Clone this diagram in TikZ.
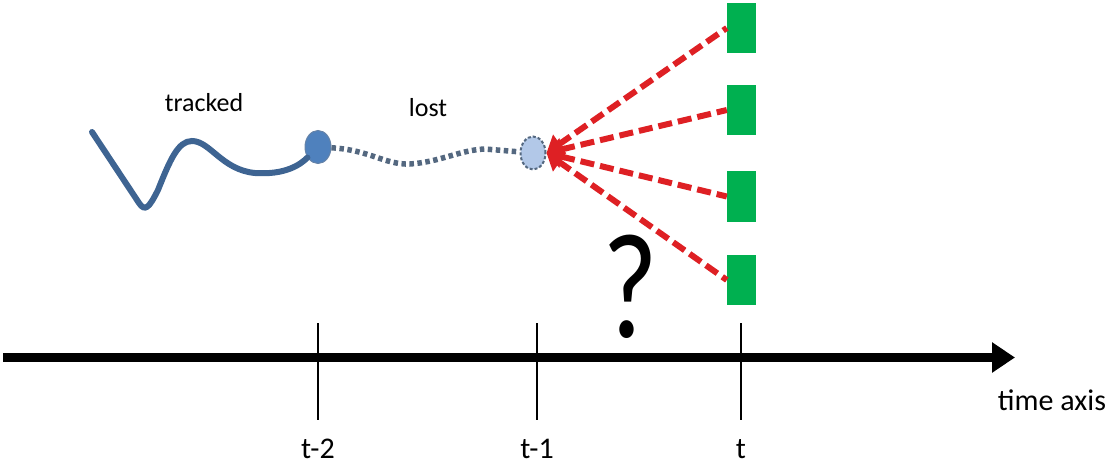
\documentclass[tikz,border=0pt]{standalone}
\usepackage{fontspec}
\setmainfont{Carlito}
\usetikzlibrary{arrows.meta,positioning,shapes.geometric}
\definecolor{trackblue}{RGB}{62,100,146}
\definecolor{dotblue}{RGB}{84,104,128}
\definecolor{nodeblue}{RGB}{79,129,189}
\definecolor{lostblue}{RGB}{178,200,232}
\definecolor{boxgreen}{RGB}{0,176,80}
\definecolor{candred}{RGB}{222,32,36}
\begin{document}
\begin{tikzpicture}[x=1pt,y=-1pt,>=Latex,font=\fontsize{26}{30}\selectfont,
  track/.style={draw=trackblue,line width=6pt,line cap=round},
  lostline/.style={draw=dotblue,line width=5.5pt,dash pattern=on 4.5pt off 3.5pt},
  cand/.style={draw=candred,line width=6pt,dash pattern=on 14pt off 6pt},
  detbox/.style={fill=boxgreen,minimum width=29pt,minimum height=50pt,inner sep=0pt},
  tick/.style={line width=2.5pt},
  axlabel/.style={font=\fontsize{30}{34}\selectfont,anchor=base,inner sep=1pt}]
\useasboundingbox (0,0) rectangle (1110,465);
% time axis
\coordinate (ax0) at (3,357.5); \coordinate (ax1) at (1015,357.5);
\draw[line width=8.5pt,-{Triangle[length=23pt,width=29pt]}] (ax0)--(ax1);
\foreach \x/\t/\n in {318/t-2/a,537/t-1/b,741/t/c}{
  \coordinate (\n top) at (\x,323); \coordinate (\n bot) at (\x,420);
  \draw[tick] (\n top)--(\n bot);
  \node[axlabel] (\n lab) at (\x,458) {\t};}
\node[axlabel] (axlab) at (1052,410) {time axis};
% detections at t
\foreach \y/\i in {28/1,110/2,196.5/3,280/4}{\node[detbox] (b\i) at (741.5,\y) {};}
% trajectory
\node[ellipse,fill=nodeblue,draw=trackblue!80,line width=1pt,minimum width=26pt,minimum height=33pt,inner sep=0pt] (tr) at (318,147) {};
\node[ellipse,fill=lostblue,draw=dotblue,dash pattern=on 3pt off 2pt,line width=2pt,minimum width=25pt,minimum height=33pt,inner sep=0pt] (lost) at (533,153) {};
\coordinate (tstart) at (92,132);
\draw[track] (tstart) -- (139,203) .. controls (145,212) and (149,208) .. (158,190)
  .. controls (170,160) and (178,141) .. (192,141) .. controls (210,141) and (222,170) .. (255,173)
  .. controls (285,175) and (300,165) .. (tr);
\draw[lostline] (tr) .. controls (370,150) and (385,165) .. (410,164) .. controls (440,162) and (460,150) .. (485,149) -- (lost);
\foreach \i in {1,...,4}{\draw[cand,{Triangle[length=16pt,width=22pt]}-] (lost.east) -- (b\i.west);}
\node[anchor=base] (trlab) at (204,112) {tracked};
\node[anchor=base] (lolab) at (428,117) {lost};
\node[anchor=base,font=\fontsize{150}{150}\selectfont] (qm) at (630,337) {\scalebox{0.8}[1]{?}};
\end{tikzpicture}
\end{document}
